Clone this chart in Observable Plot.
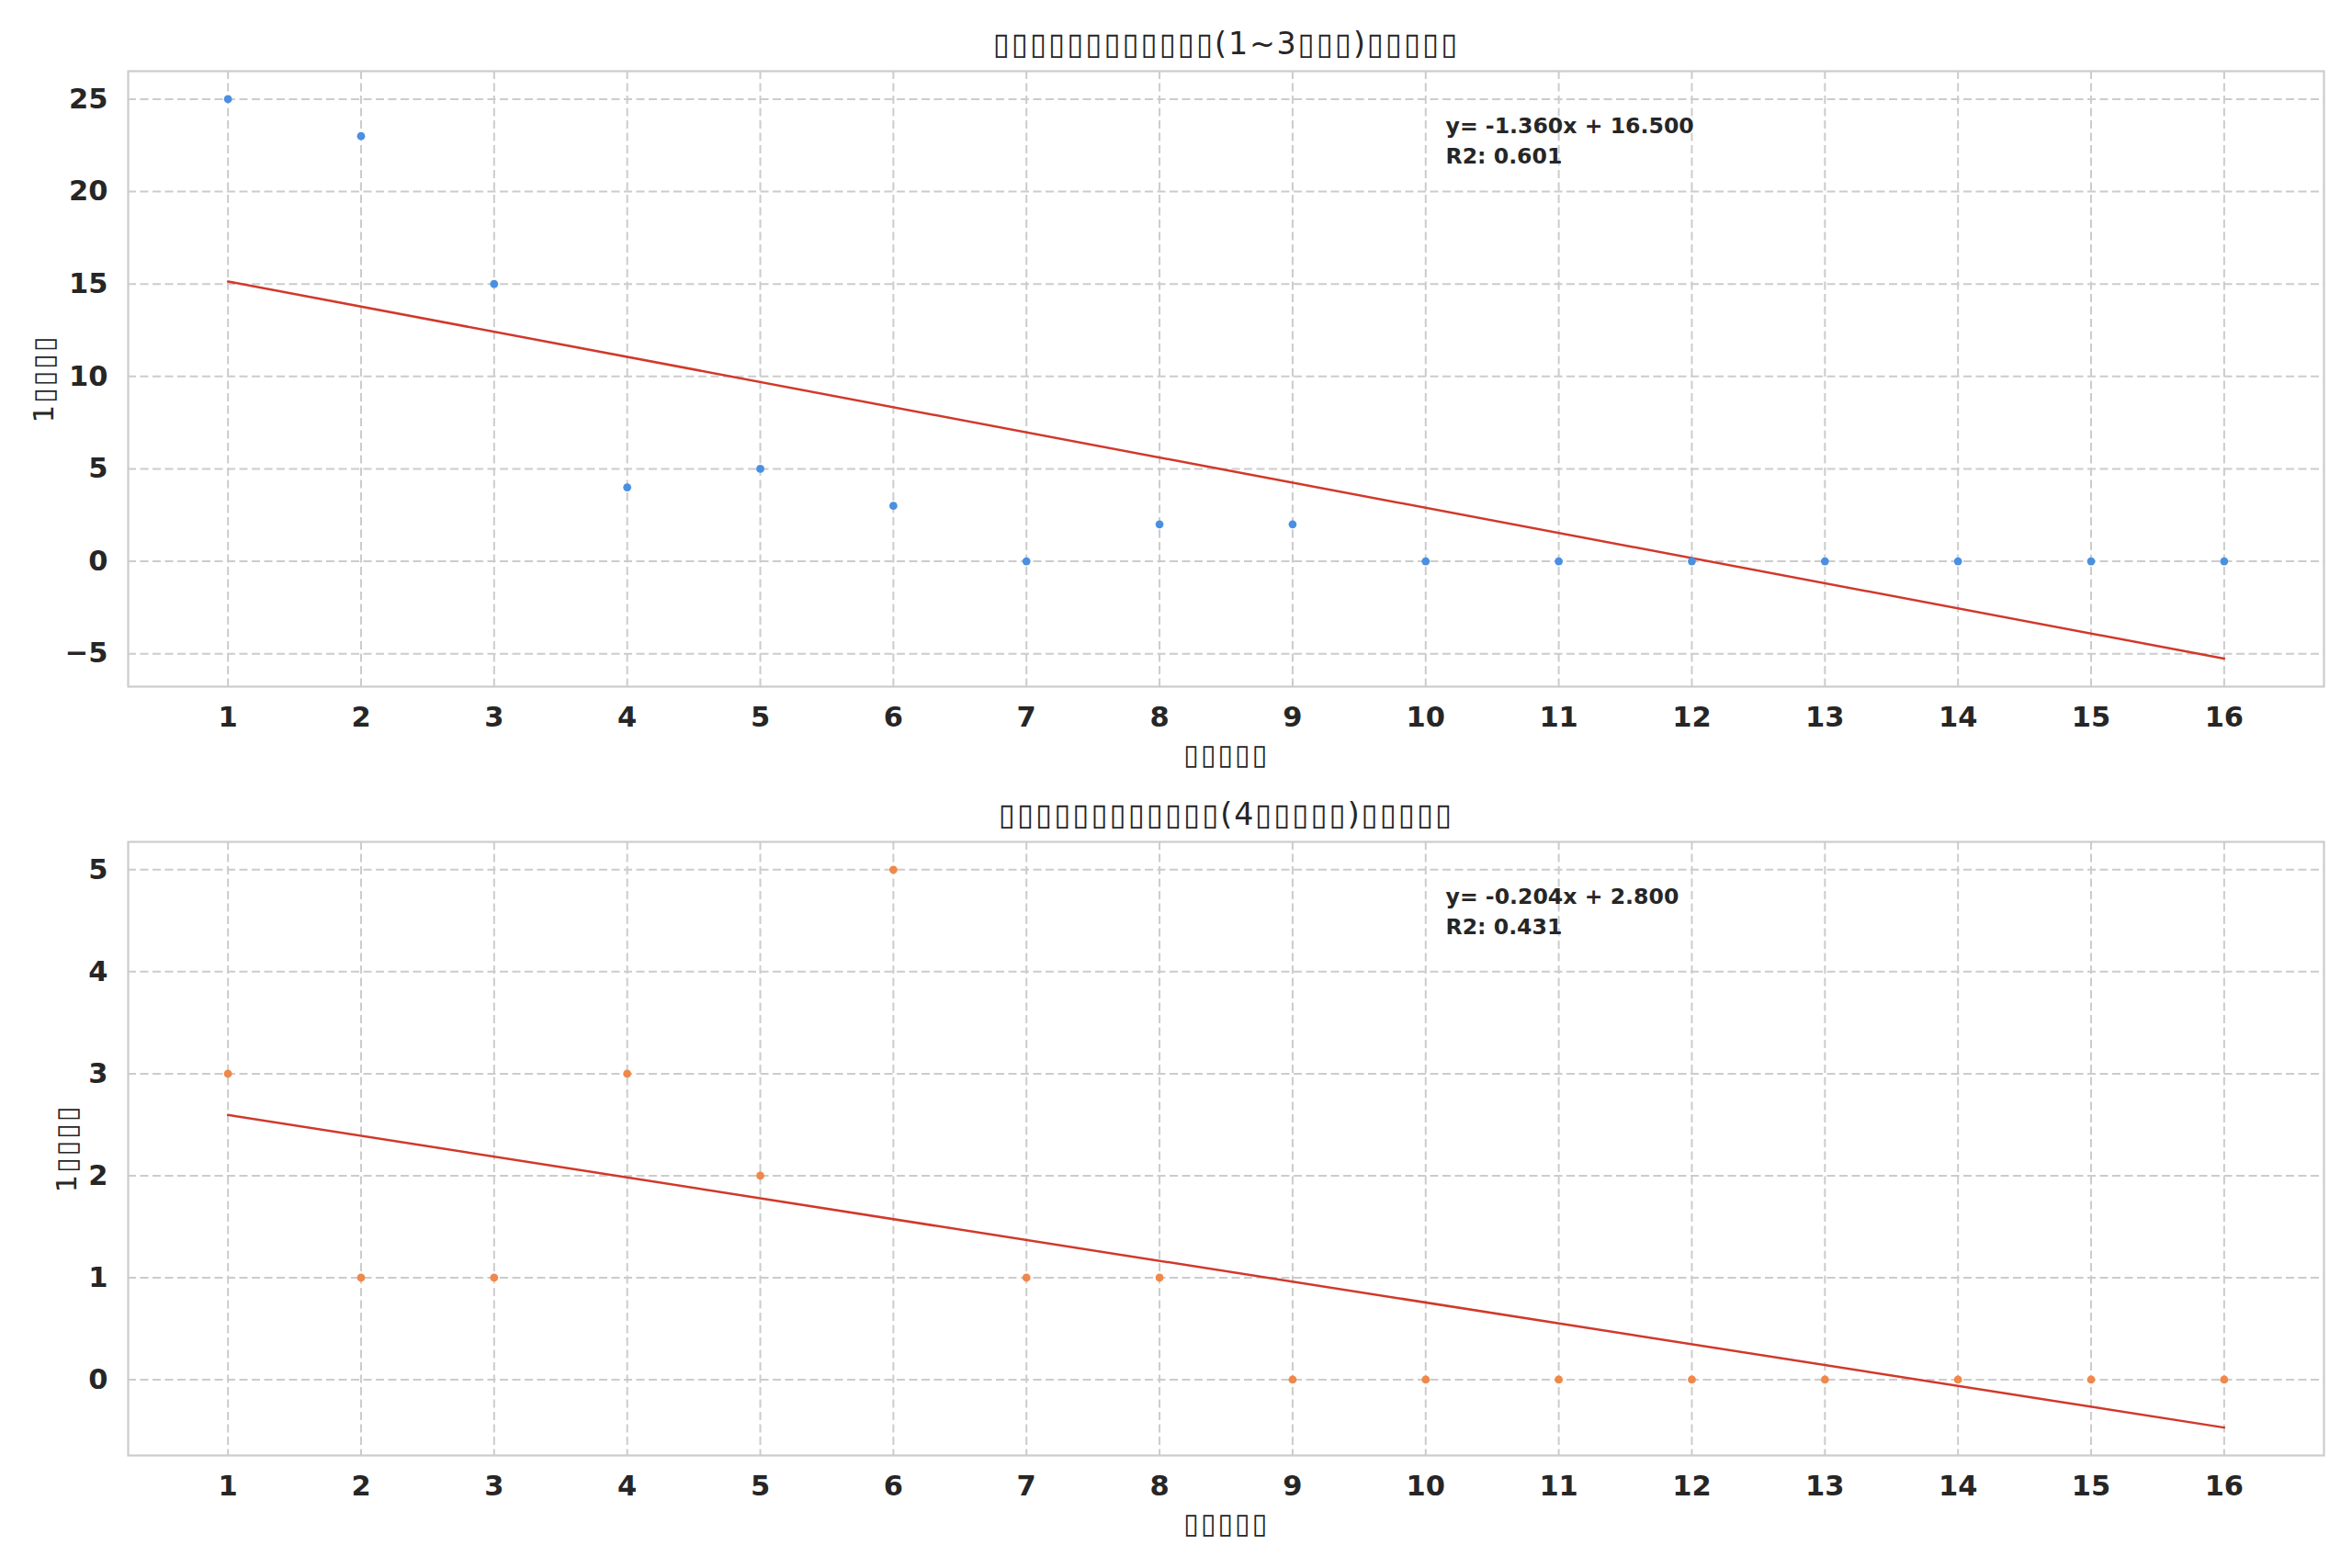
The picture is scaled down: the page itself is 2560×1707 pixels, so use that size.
<!DOCTYPE html>
<html><head><meta charset="utf-8">
<script src="https://cdn.jsdelivr.net/npm/d3@7"></script>
<script src="https://cdn.jsdelivr.net/npm/@observablehq/plot@0.6"></script>
<style>body{margin:0;background:#fff} #chart svg{display:block;background:#fff}</style>
</head><body><div id="chart"></div>
<script>
const weeks = [1,2,3,4,5,6,7,8,9,10,11,12,13,14,15,16];
const topCounts = [25,23,15,4,5,3,0,2,2,0,0,0,0,0,0,0];
const bottomCounts = [3,1,1,3,2,5,1,1,0,0,0,0,0,0,0,0];
const xTicks = [1,2,3,4,5,6,7,8,9,10,11,12,13,14,15,16];
const topYTicks = [-5,0,5,10,15,20,25];
const bottomYTicks = [0,1,2,3,4,5];
const topTitle = "▯▯▯▯▯▯▯▯▯▯▯▯(1~3▯▯▯)▯▯▯▯▯";
const bottomTitle = "▯▯▯▯▯▯▯▯▯▯▯▯(4▯▯▯▯▯)▯▯▯▯▯";
const xLabel = "▯▯▯▯▯";
const yLabel = "1▯▯▯▯";
const topColor = "#4a90e2";
const bottomColor = "#f0884a";
const lineColor = "#d0392b";
const ink = "#262626";
const font = "DejaVu Sans";

function fit(xs, ys) {
  const mx = d3.mean(xs), my = d3.mean(ys);
  let sxy = 0, sxx = 0, syy = 0;
  xs.forEach((x, i) => { sxy += (x - mx) * (ys[i] - my); sxx += (x - mx) ** 2; syy += (ys[i] - my) ** 2; });
  const slope = sxy / sxx, intercept = my - slope * mx;
  return {slope, intercept, r2: (sxy * sxy) / (sxx * syy)};
}

function pad(lo, hi) { const p = (hi - lo) * 0.05; return [lo - p, hi + p]; }

function makePlot({counts, color, yTicks, title, height, marginTop, marginBottom, ylabelDx}) {
  const data = weeks.map((w, i) => ({week: w, count: counts[i]}));
  const f = fit(weeks, counts);
  const lineVals = d3.extent(weeks).map(x => f.slope * x + f.intercept);
  const yDom = pad(Math.min(d3.min(counts), ...lineVals), Math.max(d3.max(counts), ...lineVals));
  const xDom = pad(...d3.extent(weeks));
  const sign = f.intercept >= 0 ? "+" : "-";
  const ann = `y= ${f.slope.toFixed(3)}x ${sign} ${Math.abs(f.intercept).toFixed(3)}\nR2: ${f.r2.toFixed(3)}`;
  const svg = Plot.plot({
    width: 2560, height, marginTop, marginBottom, marginLeft: 139, marginRight: 31,
    style: {fontFamily: font, color: ink, background: "#fff", overflow: "visible"},
    x: {domain: xDom},
    y: {domain: yDom},
    marks: [
      Plot.gridX(xTicks, {stroke: "#cccccc", strokeOpacity: 1, strokeWidth: 2, strokeDasharray: "9,4.5"}),
      Plot.gridY(yTicks, {stroke: "#cccccc", strokeOpacity: 1, strokeWidth: 2, strokeDasharray: "9,4.5"}),
      Plot.frame({stroke: "#cccccc", strokeWidth: 2.2}),
      Plot.axisX(xTicks, {tickSize: 0, tickPadding: 22, fontSize: 30.5, fontWeight: "bold", fill: ink, label: null, tickFormat: d3.format("d")}),
      Plot.axisY(yTicks, {tickSize: 0, tickPadding: 22, fontSize: 30.5, fontWeight: "bold", fill: ink, label: null, tickFormat: d3.format("d")}),
      Plot.linearRegressionY(data, {x: "week", y: "count", stroke: lineColor, strokeWidth: 2.5, ci: 0}),
      Plot.dot(data, {x: "week", y: "count", r: 4.4, fill: color}),
      Plot.text([ann], {frameAnchor: "top-left", dx: 1434, dy: 73, lineAnchor: "middle", textAnchor: "start", lineHeight: 1.4, fontSize: 23.6, fontWeight: "bold", fill: ink}),
      Plot.text([title], {frameAnchor: "top", dy: -29, lineAnchor: "middle", textAnchor: "middle", fontSize: 33.3, fill: ink}),
      Plot.text([xLabel], {frameAnchor: "bottom", dy: 75, lineAnchor: "middle", textAnchor: "middle", fontSize: 30.5, fill: ink}),
      Plot.text([yLabel], {frameAnchor: "left", dx: ylabelDx, rotate: -90, lineAnchor: "middle", textAnchor: "middle", fontSize: 30.5, fill: ink})
    ]
  });
  svg.querySelectorAll("text").forEach(t => {
    if (t.textContent.includes("▯")) t.style.letterSpacing = "1.8px";
  });
  return svg;
}

const chart = document.getElementById("chart");
chart.append(makePlot({counts: topCounts, color: topColor, yTicks: topYTicks, title: topTitle, height: 860, marginTop: 77, marginBottom: 113, ylabelDx: -91}));
chart.append(makePlot({counts: bottomCounts, color: bottomColor, yTicks: bottomYTicks, title: bottomTitle, height: 847, marginTop: 56, marginBottom: 123, ylabelDx: -66}));
</script></body></html>
